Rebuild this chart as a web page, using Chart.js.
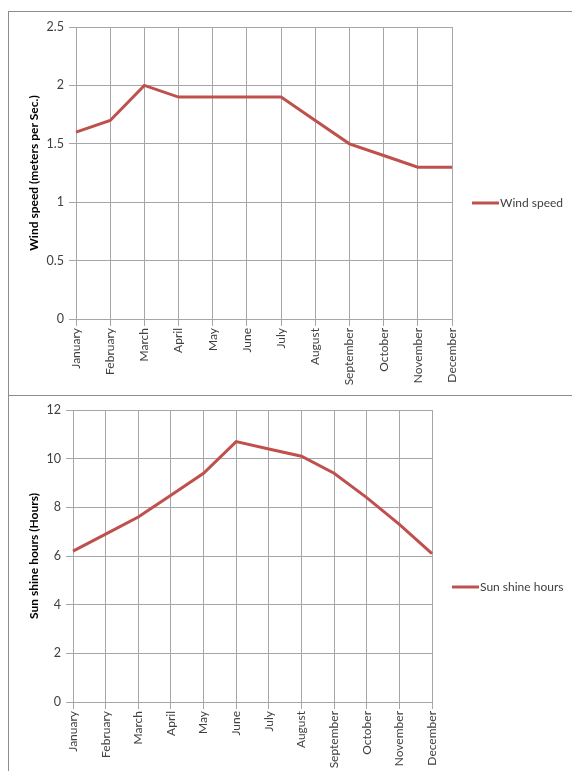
<!DOCTYPE html>
<html>
<head>
<meta charset="utf-8">
<script src="https://cdn.jsdelivr.net/npm/chart.js@4/dist/chart.umd.min.js"></script>
<style>
  html, body { margin: 0; padding: 0; background: #fff; }
  body { width: 572px; height: 771px; position: relative; overflow: hidden; }
  .frame { position: absolute; border: 1px solid #8c8c8c; border-right: none; box-sizing: border-box; }
  #f1 { left: 8px; top: 11px; width: 564px; height: 385px; }
  #f2 { left: 8px; top: 395px; width: 564px; height: 390px; border-top: none; }
  canvas { position: absolute; left: 0; }
  #c1 { top: 0; }
  #c2 { top: 395px; }
</style>
</head>
<body>
<div class="frame" id="f1"></div>
<div class="frame" id="f2"></div>
<canvas id="c1" width="572" height="395"></canvas>
<canvas id="c2" width="572" height="376"></canvas>
<script>
const months = ['January', 'February', 'March', 'April', 'May', 'June', 'July',
  'August', 'September', 'October', 'November', 'December'];
const windSpeed = [1.6, 1.7, 2.0, 1.9, 1.9, 1.9, 1.9, 1.7, 1.5, 1.4, 1.3, 1.3];
const sunHours = [6.2, 6.9, 7.6, 8.5, 9.4, 10.7, 10.4, 10.1, 9.4, 8.4, 7.3, 6.1];

const red = '#c0504d';
const grid = '#a6a6a6';
const font = 'Lato, "Open Sans", sans-serif';

// legend drawn beside the plot, like the spreadsheet original
const sideLegend = {
  id: 'sideLegend',
  afterDraw(chart, args, opts) {
    const ctx = chart.ctx;
    const ds = chart.data.datasets[0];
    const x = chart.chartArea.right + opts.dx;
    const y = opts.y;
    ctx.save();
    ctx.strokeStyle = ds.borderColor;
    ctx.lineWidth = 3;
    ctx.beginPath();
    ctx.moveTo(x, y);
    ctx.lineTo(x + 27, y);
    ctx.stroke();
    ctx.fillStyle = '#404040';
    ctx.font = '12px ' + font;
    ctx.textBaseline = 'middle';
    ctx.fillText(ds.label, x + 28, y);
    ctx.restore();
  }
};

function makeChart(id, label, values, yMax, yStep, title, area, legendY) {
  return new Chart(document.getElementById(id), {
    type: 'line',
    data: {
      labels: months,
      datasets: [{
        label: label,
        data: values,
        borderColor: red,
        borderWidth: 3,
        pointRadius: 0,
        tension: 0,
        fill: false
      }]
    },
    options: {
      responsive: false,
      animation: false,
      layout: { padding: { top: area.top, right: 572 - area.right, bottom: 0, left: 0 } },
      plugins: {
        legend: { display: false },
        tooltip: { enabled: false },
        sideLegend: { dx: 20, y: legendY }
      },
      scales: {
        x: {
          offset: false,
          grid: { color: grid, lineWidth: 1, tickLength: 7, drawOnChartArea: true },
          border: { color: grid },
          ticks: {
            minRotation: 90, maxRotation: 90, autoSkip: false, padding: 2,
            color: '#404040', font: { family: font, size: 12 }
          },
          afterFit: s => { s.height = area.xh; }
        },
        y: {
          min: 0, max: yMax,
          grid: { color: grid, lineWidth: 1, tickLength: 7 },
          border: { color: grid },
          ticks: {
            stepSize: yStep, padding: 5,
            color: '#404040', font: { family: font, size: 12.5 },
            callback: v => String(Math.round(v * 10) / 10)
          },
          title: {
            display: true, text: title, color: '#000',
            font: { family: font, size: 12, weight: 'bold' },
            padding: { top: 27, bottom: 0 }
          },
          afterFit: s => { s.width = area.left; }
        }
      }
    },
    plugins: [sideLegend]
  });
}

makeChart('c1', 'Wind speed', windSpeed, 2.5, 0.5, 'Wind speed (meters per Sec.)',
  { top: 27, left: 76, right: 452, xh: 395 - 319 }, 203);
makeChart('c2', 'Sun shine hours', sunHours, 12, 2, 'Sun shine hours (Hours)',
  { top: 15, left: 73, right: 432, xh: 376 - 307 }, 192);
</script>
</body>
</html>
